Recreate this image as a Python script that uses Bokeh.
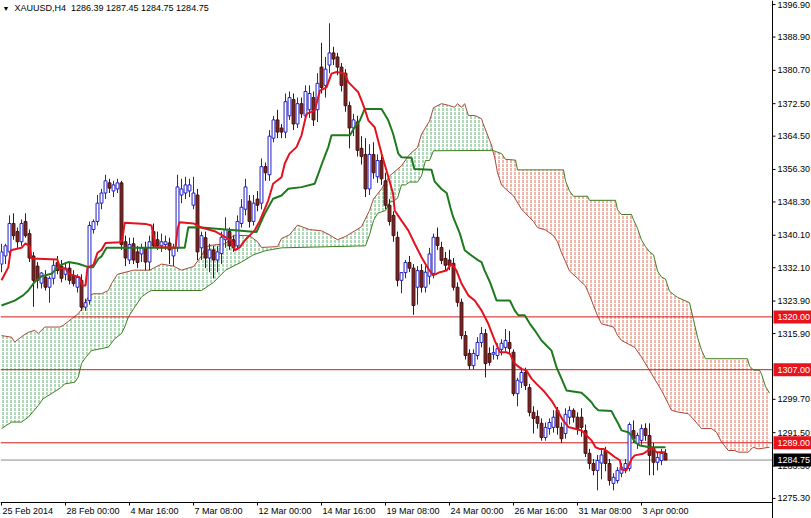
from bokeh.plotting import figure
from bokeh.models import Range1d
from bokeh.core.properties import value
from bokeh.embed import file_html
from bokeh.resources import INLINE

# ---------------- data (XAUUSD H4) ----------------
symbol = "XAUUSD,H4"

opens = [
1333.0, 1335.0, 1336.0, 1343.0, 1341.0, 1338.5, 1343.5, 1340.5, 1335.0, 1332.5,
1328.3, 1329.8, 1327.3, 1329.5, 1333.4, 1332.5, 1330.5, 1332.0, 1330.0, 1327.3,
1329.0, 1322.4, 1324.0, 1341.5, 1343.5, 1348.0, 1350.5, 1353.0, 1351.0, 1351.5,
1353.0, 1338.5, 1334.0, 1338.0, 1336.0, 1335.5, 1337.0, 1333.5, 1341.0, 1339.0,
1337.5, 1337.8, 1338.2, 1335.0, 1337.0, 1350.0, 1350.5, 1351.0, 1347.5, 1350.0,
1337.0, 1339.5, 1334.5, 1336.5, 1334.0, 1335.6, 1339.0, 1341.0, 1339.0, 1337.5,
1343.0, 1346.5, 1348.5, 1343.5, 1349.0, 1348.0, 1357.0, 1355.0, 1364.0, 1368.5,
1366.5, 1365.5, 1369.5, 1373.5, 1367.5, 1372.5, 1369.5, 1371.0, 1374.0, 1371.0,
1381.5, 1377.0, 1382.0, 1385.0, 1384.0, 1381.5, 1380.0, 1372.0, 1366.5, 1368.0,
1361.5, 1360.0, 1351.5, 1360.0, 1354.5, 1358.5, 1353.5, 1347.5, 1345.0, 1339.6,
1329.0, 1330.9, 1333.4, 1332.0, 1327.3, 1331.4, 1327.3, 1330.0, 1330.7, 1339.6,
1337.1, 1334.4, 1334.0, 1333.2, 1327.3, 1323.6, 1315.4, 1311.0, 1308.0, 1310.5,
1313.7, 1315.9, 1311.0, 1310.8, 1310.5, 1312.0, 1312.5, 1313.7, 1311.3, 1301.1,
1303.9, 1306.3, 1302.6, 1296.5, 1295.5, 1293.8, 1290.3, 1292.5, 1292.8, 1297.0,
1292.8, 1291.3, 1295.3, 1297.0, 1295.3, 1295.3, 1292.0, 1286.4, 1283.9, 1282.2,
1284.0, 1287.1, 1283.9, 1279.0, 1279.7, 1281.5, 1282.7, 1282.7, 1292.0, 1288.8,
1289.6, 1292.5, 1290.8, 1287.6, 1284.2, 1284.65, 1286.39]

highs = [
1338.0, 1338.0, 1345.0, 1345.5, 1342.0, 1344.0, 1345.5, 1341.5, 1336.0, 1333.5,
1331.0, 1331.5, 1330.0, 1334.0, 1335.0, 1334.0, 1333.5, 1333.5, 1331.5, 1330.5,
1330.5, 1324.5, 1343.5, 1344.0, 1350.0, 1351.5, 1355.0, 1354.0, 1353.5, 1354.0,
1353.5, 1340.0, 1339.5, 1339.5, 1337.5, 1338.0, 1338.5, 1340.0, 1343.0, 1341.0,
1340.5, 1340.0, 1339.5, 1338.0, 1355.0, 1354.0, 1354.5, 1354.0, 1354.5, 1351.5,
1341.0, 1341.0, 1338.0, 1337.5, 1337.5, 1341.0, 1344.5, 1342.0, 1340.0, 1345.0,
1349.0, 1354.0, 1350.0, 1350.0, 1351.0, 1359.0, 1358.0, 1366.0, 1369.5, 1371.0,
1367.5, 1375.0, 1375.5, 1375.0, 1374.0, 1374.0, 1377.0, 1377.0, 1375.5, 1380.0,
1387.5, 1384.0, 1392.3, 1386.5, 1385.0, 1382.5, 1381.0, 1373.0, 1370.0, 1369.5,
1364.5, 1364.0, 1362.5, 1363.0, 1360.0, 1361.0, 1355.5, 1349.0, 1346.0, 1341.0,
1331.0, 1334.0, 1335.0, 1333.0, 1332.5, 1333.0, 1332.5, 1337.0, 1340.5, 1342.0,
1338.5, 1336.0, 1336.5, 1334.5, 1328.5, 1324.5, 1316.5, 1312.0, 1312.0, 1315.0,
1317.5, 1317.0, 1312.5, 1313.0, 1313.5, 1314.5, 1317.0, 1316.5, 1312.0, 1305.0,
1307.5, 1307.5, 1303.5, 1298.0, 1297.0, 1295.0, 1294.0, 1295.0, 1297.0, 1297.8,
1294.0, 1297.5, 1298.0, 1297.5, 1296.5, 1297.5, 1293.5, 1287.5, 1285.0, 1286.0,
1287.5, 1288.0, 1285.0, 1281.5, 1283.0, 1284.0, 1285.0, 1294.0, 1294.5, 1291.5,
1293.5, 1293.8, 1293.8, 1289.0, 1286.5, 1287.5, 1287.45]

lows = [
1331.0, 1333.0, 1335.0, 1339.0, 1337.0, 1337.5, 1339.5, 1333.5, 1322.5, 1327.0,
1327.0, 1326.5, 1323.5, 1328.0, 1330.5, 1328.5, 1329.0, 1328.0, 1327.5, 1326.0,
1321.5, 1321.5, 1323.0, 1340.5, 1342.5, 1346.5, 1349.0, 1350.5, 1349.5, 1350.5,
1336.5, 1332.5, 1333.0, 1333.0, 1332.0, 1333.5, 1331.5, 1331.5, 1337.0, 1336.5,
1336.0, 1336.5, 1333.0, 1332.5, 1336.0, 1348.0, 1349.0, 1349.5, 1346.5, 1334.0,
1334.0, 1332.0, 1331.0, 1329.5, 1331.0, 1333.0, 1337.0, 1336.5, 1336.0, 1336.5,
1342.0, 1345.0, 1342.0, 1342.5, 1346.0, 1346.5, 1353.5, 1353.5, 1363.0, 1364.0,
1364.0, 1364.0, 1368.5, 1366.0, 1366.5, 1369.0, 1368.5, 1369.0, 1367.0, 1368.0,
1375.0, 1374.0, 1380.0, 1382.0, 1379.5, 1375.5, 1370.5, 1361.5, 1364.5, 1359.5,
1357.5, 1349.5, 1350.0, 1354.0, 1353.0, 1352.5, 1346.5, 1342.5, 1338.5, 1327.5,
1325.8, 1329.5, 1331.0, 1320.5, 1323.0, 1326.0, 1326.0, 1328.0, 1329.5, 1336.5,
1333.0, 1331.5, 1331.5, 1326.5, 1322.5, 1314.5, 1309.5, 1307.0, 1307.0, 1309.5,
1312.5, 1305.1, 1308.0, 1309.5, 1309.5, 1310.5, 1311.5, 1311.0, 1300.5, 1298.0,
1302.5, 1302.0, 1295.5, 1291.3, 1292.5, 1289.5, 1289.5, 1291.0, 1291.5, 1291.0,
1289.0, 1290.0, 1293.5, 1294.0, 1291.0, 1290.5, 1285.5, 1282.5, 1281.0, 1277.3,
1280.0, 1282.0, 1278.5, 1277.3, 1279.0, 1280.5, 1281.5, 1282.0, 1289.0, 1287.5,
1288.5, 1289.5, 1281.0, 1281.0, 1282.2, 1283.5, 1284.75]

closes = [
1336.0, 1337.5, 1343.0, 1340.0, 1338.5, 1343.0, 1340.0, 1334.5, 1329.0, 1329.0,
1330.8, 1327.3, 1329.5, 1332.7, 1331.4, 1329.5, 1332.0, 1329.0, 1328.2, 1329.7,
1322.4, 1323.5, 1342.5, 1343.5, 1348.0, 1350.5, 1353.5, 1351.7, 1352.5, 1353.0,
1337.8, 1334.5, 1337.8, 1334.0, 1333.4, 1337.0, 1333.5, 1338.5, 1337.5, 1337.5,
1338.5, 1338.5, 1336.5, 1337.0, 1352.0, 1351.5, 1352.5, 1352.5, 1350.5, 1336.0,
1340.0, 1334.5, 1336.5, 1334.0, 1336.0, 1339.6, 1341.5, 1337.5, 1337.0, 1343.5,
1347.0, 1352.0, 1343.5, 1348.0, 1347.5, 1357.0, 1355.5, 1364.5, 1368.5, 1365.5,
1365.5, 1373.0, 1374.0, 1367.5, 1372.5, 1370.0, 1375.5, 1375.0, 1368.5, 1377.5,
1376.5, 1381.0, 1385.0, 1383.5, 1381.5, 1377.0, 1372.0, 1366.5, 1368.5, 1361.0,
1359.5, 1351.5, 1360.0, 1355.5, 1358.5, 1354.0, 1347.5, 1343.5, 1340.0, 1329.0,
1330.9, 1333.4, 1332.0, 1322.8, 1331.4, 1327.3, 1331.0, 1335.5, 1339.6, 1337.6,
1333.9, 1332.7, 1332.7, 1327.3, 1323.6, 1315.4, 1310.5, 1308.0, 1311.0, 1313.7,
1315.9, 1308.5, 1308.8, 1311.2, 1312.2, 1313.5, 1314.2, 1312.2, 1301.1, 1304.4,
1306.3, 1303.1, 1296.5, 1295.0, 1293.8, 1290.3, 1292.8, 1294.0, 1295.3, 1292.8,
1290.0, 1296.0, 1297.0, 1295.3, 1292.5, 1292.8, 1286.4, 1283.9, 1282.2, 1284.65,
1286.0, 1283.9, 1279.7, 1280.5, 1282.2, 1283.0, 1283.9, 1293.5, 1290.0, 1290.8,
1292.5, 1290.8, 1285.9, 1284.2, 1285.4, 1286.4, 1284.75]

# Ichimoku lines: (bar index, price)
tenkan_pts = [
(0, 1329.0), (1.7, 1332.2), (2.3, 1336.4), (5, 1337.0), (6, 1338.1), (7, 1337.4), (7.5, 1334.4),
(14, 1334.1), (14.5, 1331.9), (16, 1331.9), (17, 1330.5), (19.5, 1329.8), (20.2, 1327.7), (21, 1327.7),
(21.5, 1332.2), (23, 1332.8), (24, 1335.8), (25, 1336.5), (26, 1338.2), (29.5, 1338.4), (30.2, 1339.0),
(30.8, 1343.2), (36, 1342.9), (37.5, 1342.5), (38.5, 1337.2), (43.5, 1337.0), (44, 1341.5), (44.5, 1343.3),
(48, 1343.0), (50, 1342.0), (53.3, 1341.1), (57.5, 1338.8), (58.3, 1336.4), (59.6, 1337.2), (60.8, 1338.8),
(62.5, 1340.5), (63.3, 1341.3), (64.6, 1343.7), (66.7, 1348.7), (67.9, 1352.8), (70, 1354.4), (70.8, 1357.7),
(72, 1360.2), (73.75, 1361.8), (75, 1364.7), (76.25, 1370.0), (78.3, 1370.8), (79.6, 1375.7), (81.25, 1376.5),
(82.5, 1379.9), (83.75, 1380.3), (85.8, 1379.9), (86.7, 1377.8), (88, 1376.5), (89.2, 1375.3), (90, 1373.3),
(90.8, 1371.2), (91.7, 1368.4), (93.3, 1366.7), (95, 1360.2), (96.25, 1356.05), (97.9, 1350.3), (98.3, 1346.2),
(100, 1343.7), (101.7, 1341.3), (103.3, 1338.0), (105, 1334.7), (106.7, 1331.85), (107.9, 1330.2), (109.6, 1331.0),
(111.25, 1331.4), (112.5, 1333.1), (113.75, 1331.4), (115, 1328.2), (116.7, 1325.3), (118.3, 1324.05), (120, 1321.6),
(121.7, 1318.3), (123.3, 1314.2), (124.6, 1311.3), (126.25, 1311.3), (127.1, 1310.9), (128.3, 1308.5), (130, 1307.2),
(131.25, 1306.8), (132.5, 1304.8), (133.75, 1303.5), (135.8, 1301.5), (137.5, 1299.4), (138.75, 1297.4), (140.4, 1294.5),
(141.7, 1292.9), (145, 1292.05), (146.25, 1290.8), (147.5, 1289.6), (148.5, 1287.9), (149.5, 1287.5), (150.5, 1287.5),
(151.7, 1286.7), (153.3, 1285.5), (154.6, 1284.7), (155, 1282.4), (156.2, 1282.2), (156.8, 1283.4), (157.5, 1285.0),
(158.3, 1285.9), (160.4, 1286.3), (162, 1287.3), (162.5, 1287.9), (163.75, 1286.7), (166, 1286.7)]

kijun_pts = [
(0, 1322.8), (3.3, 1324.0), (5.4, 1325.3), (6.7, 1326.5), (8.3, 1328.6), (10, 1330.0), (12.5, 1330.6),
(14.6, 1332.7), (16.7, 1333.5), (19.2, 1333.1), (21.7, 1332.25), (22.9, 1332.25), (24.2, 1334.3), (25, 1334.9),
(26.25, 1337.0), (45.8, 1337.0), (46.7, 1342.1), (50, 1342.0), (63.75, 1340.9), (65.8, 1345.4), (67.9, 1349.1),
(70, 1349.9), (71.7, 1351.55), (75, 1351.95), (78.3, 1352.8), (79.2, 1355.2), (80.4, 1358.5), (81.7, 1361.8),
(82.5, 1364.7), (87.1, 1364.7), (88.3, 1366.7), (89.6, 1368.4), (90.8, 1371.2), (95, 1371.2), (96.7, 1368.4),
(97.9, 1365.1), (99.2, 1360.2), (100, 1359.3), (102.5, 1359.2), (103.2, 1356.4), (107.5, 1356.2), (108.3, 1353.3),
(110, 1351.5), (111.3, 1350.5), (112.2, 1347.0), (112.9, 1344.6), (114.6, 1340.5), (115.8, 1336.4), (117.5, 1335.1),
(119.2, 1333.9), (120, 1333.5), (120.8, 1331.4), (122.1, 1328.6), (123.75, 1324.05), (127.1, 1324.05), (128.3, 1321.6),
(129.2, 1320.4), (130.8, 1320.4), (132.1, 1318.3), (133.3, 1316.7), (135, 1314.2), (137.5, 1311.7), (138.75, 1307.6),
(140, 1304.8), (141.25, 1301.9), (145, 1301.3), (146.25, 1300.2), (147.5, 1299.0), (148.3, 1297.8), (149.2, 1297.0),
(152.5, 1296.8), (153.3, 1295.3), (154.2, 1293.7), (155, 1292.05), (156.7, 1291.6), (157.5, 1290.8), (158.3, 1289.2),
(159.6, 1288.35), (162, 1287.9), (166, 1287.9)]

senkou_a_pts = [
(0, 1315.4), (2.5, 1315.0), (3.3, 1313.8), (5.4, 1315.4), (6.7, 1316.2), (8.3, 1316.7), (9.2, 1315.9),
(10.8, 1317.5), (14.6, 1317.5), (15.4, 1317.9), (17.5, 1319.5), (19.2, 1320.8), (20.4, 1322.4), (21.7, 1324.9),
(22.9, 1325.7), (25, 1325.7), (26.7, 1326.5), (27.5, 1328.2), (29, 1330.5), (33, 1331.5), (37, 1331.5),
(40, 1333.0), (43, 1332.5), (45, 1331.5), (48, 1332.4), (50, 1335.0), (51, 1337.0), (52, 1337.6), (56, 1338.0),
(58, 1340.1), (62, 1340.0), (64, 1338.5), (65, 1337.1), (69, 1337.3), (70, 1339.3), (72, 1340.2), (74, 1342.6),
(77, 1341.5), (80, 1341.2), (82, 1340.2), (84, 1339.0), (86, 1339.8), (90, 1342.2), (92, 1346.2), (93, 1349.0),
(95, 1351.5), (97, 1354.7), (100, 1357.2), (102, 1360.0), (104, 1361.7), (105, 1365.0), (107, 1368.2),
(108, 1371.5), (110, 1372.5), (111.7, 1372.1), (113.3, 1371.6), (114, 1372.5), (115, 1371.6), (115.8, 1372.5),
(116.7, 1369.6), (118.3, 1369.6), (120, 1368.8), (120.4, 1367.6), (121.7, 1364.3), (122.5, 1362.3), (122.8, 1361.0),
(123.3, 1359.3), (124, 1355.5), (125, 1352.5), (126, 1351.5), (128, 1349.8), (130, 1346.5), (133, 1343.5),
(134, 1342.0), (136, 1341.4), (138, 1340.0), (139, 1338.5), (140, 1335.8), (141, 1333.6), (142, 1331.3),
(144, 1329.5), (146, 1327.6), (147, 1325.3), (148, 1322.8), (149, 1320.3), (150, 1318.3), (153, 1317.5),
(154, 1315.5), (155, 1314.2), (158.3, 1312.5), (160, 1310.1), (162.5, 1306.0), (165, 1301.9), (166.7, 1298.6),
(167.5, 1297.0), (169.2, 1296.55), (171.7, 1296.15), (172.9, 1294.9), (175, 1292.5), (177.5, 1292.5),
(178.75, 1291.6), (180, 1289.2), (181.7, 1287.1), (183.3, 1287.1), (184.2, 1286.7), (186.7, 1286.7),
(187.9, 1287.9), (189.2, 1287.5), (192, 1287.9)]

senkou_b_pts = [
(0, 1292.5), (2.5, 1294.1), (5, 1294.1), (6.7, 1295.3), (9.2, 1298.2), (10.4, 1299.85), (12.5, 1301.1),
(15, 1302.7), (15.8, 1303.5), (18.3, 1303.9), (19.2, 1305.2), (20, 1308.5), (20.8, 1309.7), (22.5, 1311.7),
(25, 1312.2), (26.7, 1312.55), (28.3, 1314.6), (30, 1315.9), (30.8, 1317.5), (31.7, 1319.9), (32.5, 1321.2),
(33.3, 1322.4), (35, 1324.9), (36.7, 1326.1), (37.5, 1326.5), (50, 1326.5), (53, 1328.5), (56, 1331.5),
(60, 1333.5), (63, 1335.3), (66, 1336.3), (70, 1337.0), (91, 1337.5), (92, 1340.2), (93, 1343.7), (94, 1345.5),
(96, 1346.2), (97, 1348.2), (98, 1348.5), (99, 1349.2), (100, 1352.5), (101, 1352.5), (102, 1353.2),
(104, 1353.2), (105, 1354.7), (106, 1358.5), (107, 1358.5), (108, 1360.9), (122.8, 1361.0), (125, 1360.2),
(126, 1358.8), (128.5, 1358.6), (129, 1356.2), (140.5, 1356.2), (141, 1353.5), (142, 1351.0), (143, 1349.7),
(146.5, 1349.7), (147, 1348.7), (153.5, 1348.7), (154, 1346.4), (155, 1345.2), (157.5, 1345.2), (158, 1343.9),
(159, 1341.8), (160, 1338.9), (161, 1337.3), (162, 1336.0), (163, 1335.3), (164, 1331.3), (165, 1329.8),
(166, 1329.3), (167, 1326.3), (169, 1324.8), (172, 1323.5), (173, 1319.3), (174, 1315.0), (175, 1311.8),
(176, 1309.7), (186.5, 1309.7), (187, 1307.9), (188, 1306.9), (189.5, 1306.9), (190, 1305.9), (191, 1302.9),
(192, 1301.2)]

kumo_twist_bar = 122.8          # bar where span A and span B cross

level_prices = [1320.00, 1307.00, 1289.00]      # horizontal levels

y_tick_values = [1396.9, 1388.9, 1380.7, 1372.5, 1364.5, 1356.3, 1348.3, 1340.1,
                 1332.1, 1323.9, 1315.9, 1299.7, 1291.5, 1283.3, 1275.3]

x_tick_bars = [0, 16, 32, 48, 64, 80, 96, 112, 128, 144, 160]
x_tick_labels = ["25 Feb 2014", "28 Feb 00:00", "4 Mar 16:00", "7 Mar 08:00", "12 Mar 00:00",
                 "14 Mar 16:00", "19 Mar 08:00", "24 Mar 00:00", "26 Mar 16:00", "31 Mar 08:00",
                 "3 Apr 00:00"]

# ---------------- styling / layout ----------------
FONT = value("Liberation Sans")
FS = value("9px")
BULL_LINE = "#2020c4"
BEAR_FILL = "#7b2222"
BEAR_LINE = "#4a1010"
TENKAN_C = "#e4121e"
KIJUN_C = "#1e7a1e"
SPAN_A_C = "#a8473a"
SPAN_B_C = "#3f7d22"
HATCH_UP = "#3a9a4a"
HATCH_DN = "#d9482a"
LEVEL_C = "#d21c1c"
BOX_RED = "#e8141c"

W, H = 811, 518              # canvas
CHART_W, CHART_H = 772, 502  # price area inside the canvas (rest: scales)
bar_lo, bar_hi = -0.25, 192.75
usd_lo, usd_hi = 1274.3, 1397.9
ppb = CHART_W / (bar_hi - bar_lo)   # pixels per bar
ppu = CHART_H / (usd_hi - usd_lo)   # pixels per dollar
x_max = bar_lo + W / ppb
y_min = usd_hi - H / ppu

n = len(closes)
assert len(opens) == n and len(highs) == n and len(lows) == n, (len(opens), len(highs), len(lows), n)

p = figure(width=W, height=H, x_range=Range1d(bar_lo, x_max), y_range=Range1d(y_min, usd_hi),
           x_axis_location=None, y_axis_location=None, output_backend="svg", toolbar_location=None,
           min_border=0)
p.xgrid.visible = False
p.ygrid.visible = False
p.outline_line_color = None
p.background_fill_color = "white"
p.border_fill_color = "white"

# ---------------- kumo (cloud) ----------------
def sel(pts, cond):
    return [pt for pt in pts if cond(pt[0])]

tw = kumo_twist_bar
up_poly = sel(senkou_a_pts, lambda x: x <= tw) + sel(senkou_b_pts, lambda x: x <= tw)[::-1]
dn_poly = sel(senkou_b_pts, lambda x: x >= tw) + sel(senkou_a_pts, lambda x: x >= tw)[::-1]

p.patch(x=[q[0] for q in up_poly], y=[q[1] for q in up_poly], fill_color=None, line_color=None,
        hatch_pattern=":", hatch_color=HATCH_UP, hatch_scale=4, hatch_weight=1, hatch_alpha=0.8)
p.patch(x=[q[0] for q in dn_poly], y=[q[1] for q in dn_poly], fill_color=None, line_color=None,
        hatch_pattern=":", hatch_color=HATCH_DN, hatch_scale=4, hatch_weight=1, hatch_alpha=0.8)

p.line([q[0] for q in senkou_a_pts], [q[1] for q in senkou_a_pts], line_color=SPAN_A_C, line_width=1)
p.line([q[0] for q in senkou_b_pts], [q[1] for q in senkou_b_pts], line_color=SPAN_B_C, line_width=1)

# horizontal levels and current price line (across the price area)
p.segment(x0=[bar_lo] * len(level_prices), x1=[bar_hi] * len(level_prices),
          y0=level_prices, y1=level_prices, line_color=LEVEL_C, line_width=1)
p.segment(x0=[bar_lo], x1=[bar_hi], y0=[closes[-1]], y1=[closes[-1]], line_color="#8a8a8a", line_width=1)

# ---------------- candles ----------------
bull = [c >= o for o, c in zip(opens, closes)]
cdata = dict(
    x=list(range(n)), h=highs, l=lows,
    top=[max(o, c) for o, c in zip(opens, closes)],
    bottom=[min(o, c) for o, c in zip(opens, closes)],
    fill=["white" if b else BEAR_FILL for b in bull],
    line=[BULL_LINE if b else BEAR_LINE for b in bull],
)
p.segment(x0="x", y0="l", x1="x", y1="h", line_color="line", line_width=1, source=cdata)
p.vbar(x="x", top="top", bottom="bottom", width=0.72, fill_color="fill", line_color="line",
       line_width=1, source=cdata)

# ---------------- tenkan / kijun ----------------
p.line([q[0] for q in kijun_pts], [q[1] for q in kijun_pts], line_color=KIJUN_C, line_width=2)
p.line([q[0] for q in tenkan_pts], [q[1] for q in tenkan_pts], line_color=TENKAN_C, line_width=2)

# ---------------- price scale (right) ----------------
p.segment(x0=[bar_hi], x1=[bar_hi], y0=[y_min], y1=[usd_hi], line_color="black", line_width=1)
p.segment(x0=[bar_hi] * len(y_tick_values), x1=[bar_hi + 3 / ppb] * len(y_tick_values),
          y0=y_tick_values, y1=y_tick_values, line_color="black", line_width=1)
p.text(x=[bar_hi] * len(y_tick_values), y=y_tick_values, text=["%.2f" % v for v in y_tick_values],
       x_offset=5, text_font=FONT, text_font_size=FS, text_color="black",
       text_align="left", text_baseline="middle")

box_vals = level_prices + [closes[-1]]
box_cols = [BOX_RED] * len(level_prices) + ["black"]
p.quad(left=[bar_hi + 1 / ppb] * len(box_vals), right=[x_max] * len(box_vals),
       top=[v + 6.5 / ppu for v in box_vals], bottom=[v - 6.5 / ppu for v in box_vals],
       fill_color=box_cols, line_color=None)
p.text(x=[bar_hi] * len(box_vals), y=box_vals, text=["%.2f" % v for v in box_vals],
       x_offset=5, text_font=FONT, text_font_size=FS, text_color="white",
       text_align="left", text_baseline="middle")

# ---------------- time scale (bottom) ----------------
p.segment(x0=[bar_lo], x1=[bar_hi], y0=[usd_lo], y1=[usd_lo], line_color="black", line_width=1)
p.segment(x0=x_tick_bars, x1=x_tick_bars, y0=[usd_lo] * len(x_tick_bars),
          y1=[usd_lo - 3 / ppu] * len(x_tick_bars), line_color="black", line_width=1)
p.text(x=x_tick_bars, y=[usd_lo] * len(x_tick_bars), text=x_tick_labels, x_offset=1, y_offset=3,
       text_font=FONT, text_font_size=FS, text_color="black", text_align="left", text_baseline="top")

# ---------------- header ----------------
title_txt = "%s\u00a0 %.2f %.2f %.2f %.2f" % (symbol, opens[-1], highs[-1], lows[-1], closes[-1])
p.text(x=[bar_lo], y=[usd_hi], text=["\u25bc"], x_offset=2, y_offset=4, text_font=FONT,
       text_font_size=value("7px"), text_color="black", text_baseline="top")
p.text(x=[bar_lo], y=[usd_hi], text=[title_txt], x_offset=14, y_offset=2, text_font=FONT,
       text_font_size=FS, text_color="black", text_baseline="top")

open("out.html", "w").write(file_html(p, INLINE))
